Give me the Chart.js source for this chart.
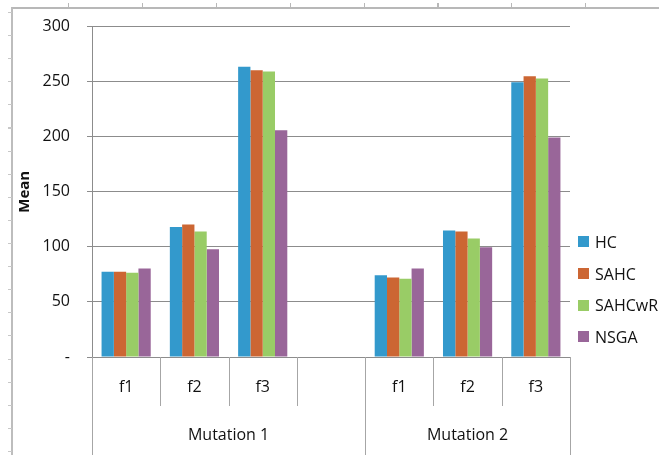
<!DOCTYPE html>
<html>
<head>
<meta charset="utf-8">
<script src="https://cdn.jsdelivr.net/npm/chart.js@4.4.0/dist/chart.umd.min.js"></script>
<style>
	body { margin: 0; background: #fff; }
	.wrap { position: relative; width: 659px; height: 455px; overflow: hidden; font-family: 'Open Sans', sans-serif; }
	.frame { position: absolute; left: 11px; top: 7px; width: 660px; height: 460px; border-top: 2px solid #b8b8b8; border-left: 2px solid #bdbdbd; }
	.ruler-top { position: absolute; left: 68px; top: 3px; width: 592px; height: 4px;
		background: repeating-linear-gradient(to right, #b8b8b8 0 1px, transparent 1px 73.9px); }
	.ruler-left { position: absolute; left: 8px; top: 12px; width: 4px; height: 443px;
		background: repeating-linear-gradient(to bottom, #c8c8c8 0 1px, transparent 1px 23.1px); }
	canvas { position: absolute; left: 0; top: 0; }
	.legend { position: absolute; left: 578px; top: 226px; }
	.legend div { display: flex; align-items: center; height: 31.7px; font-size: 16px; color: #111; }
	.legend span { display: inline-block; width: 11px; height: 11px; margin-right: 6px; }
</style>
</head>
<body>
<div class="wrap">
	<div class="frame"></div>
	<div class="ruler-top"></div>
	<div class="ruler-left"></div>
	<canvas id="chart" width="659" height="455"></canvas>
	<div class="legend"></div>
</div>
<script>
const categories = ['f1', 'f2', 'f3', '', 'f1', 'f2', 'f3']
const groupNames = ['Mutation 1', 'Mutation 2']
const groupSizes = [4, 3]

const seriesNames = ['HC', 'SAHC', 'SAHCwR', 'NSGA']
const seriesColors = ['#3399cc', '#cc6633', '#99cc66', '#996699']

const hcValues = [77.3, 118.1, 263.5, null, 74.3, 114.8, 249.5]
const sahcValues = [77.3, 120.2, 260.4, null, 72.2, 113.9, 255.0]
const sahcwrValues = [76.4, 113.9, 259.2, null, 71.0, 107.6, 252.9]
const nsgaValues = [80.4, 97.9, 206.0, null, 80.4, 99.7, 199.4]

const yTicks = [0, 50, 100, 150, 200, 250, 300]

const allValues = [hcValues, sahcValues, sahcwrValues, nsgaValues]
const font = 'Open Sans'
const textColor = '#111'
const gridColor = '#8c8c8c'
const dividerColor = '#a6a6a6'

// lines under the x axis + group labels (Mutation 1 / Mutation 2)
const groupAxis = {
	id: 'groupAxis',
	afterDraw(chart) {
		const ctx = chart.ctx
		const x = chart.scales.x
		const area = chart.chartArea
		const half = (x.getPixelForValue(1) - x.getPixelForValue(0)) / 2
		const edges = [0]
		groupSizes.forEach(n => edges.push(edges[edges.length - 1] + n))

		ctx.save()
		ctx.strokeStyle = dividerColor
		ctx.lineWidth = 1
		for (let i = 0; i <= categories.length; i++) {
			const bx = Math.round(i < categories.length ? x.getPixelForValue(i) - half : x.getPixelForValue(i - 1) + half) + 0.5
			const long = edges.includes(i)
			ctx.beginPath()
			ctx.moveTo(bx, area.bottom)
			ctx.lineTo(bx, long ? chart.height : area.bottom + 49)
			ctx.stroke()
		}

		ctx.fillStyle = textColor
		ctx.font = '16px "' + font + '"'
		ctx.textAlign = 'center'
		ctx.textBaseline = 'middle'
		groupNames.forEach((name, g) => {
			const left = x.getPixelForValue(edges[g]) - half
			const right = x.getPixelForValue(edges[g + 1] - 1) + half
			ctx.fillText(name, (left + right) / 2, area.bottom + 78)
		})
		ctx.restore()
	},
}

new Chart(document.getElementById('chart'), {
	type: 'bar',
	data: {
		labels: categories,
		datasets: seriesNames.map((name, i) => ({
			label: name,
			data: allValues[i],
			backgroundColor: seriesColors[i],
			borderWidth: 0,
			categoryPercentage: 0.72,
			barPercentage: 1,
		})),
	},
	options: {
		responsive: false,
		animation: false,
		devicePixelRatio: 1,
		layout: { padding: { top: 26, right: 89, left: 0, bottom: 0 } },
		plugins: {
			legend: { display: false },
			tooltip: { enabled: false },
		},
		scales: {
			x: {
				grid: { display: false },
				border: { display: false },
				ticks: {
					color: textColor,
					font: { family: font, size: 16 },
					padding: 13,
				},
				afterFit: scale => {
					scale.height = 98
				},
			},
			y: {
				min: 0,
				max: 300,
				afterBuildTicks: scale => {
					scale.ticks = yTicks.map(v => ({ value: v }))
				},
				grid: { color: gridColor, tickLength: 5, lineWidth: 1 },
				border: { color: gridColor },
				ticks: {
					color: textColor,
					font: { family: font, size: 16 },
					padding: 17,
					callback: v => (v === 0 ? '-' : v),
				},
				title: {
					display: true,
					text: 'Mean',
					color: textColor,
					font: { family: font, size: 15, weight: 'bold' },
					padding: { top: 16, bottom: 0 },
				},
				afterFit: scale => {
					scale.width = 92
				},
			},
		},
	},
	plugins: [groupAxis],
})

// legend on the right
const legend = document.querySelector('.legend')
seriesNames.forEach((name, i) => {
	const row = document.createElement('div')
	row.innerHTML = `<span style="background:${seriesColors[i]}"></span>${name}`
	legend.appendChild(row)
})
</script>
</body>
</html>
